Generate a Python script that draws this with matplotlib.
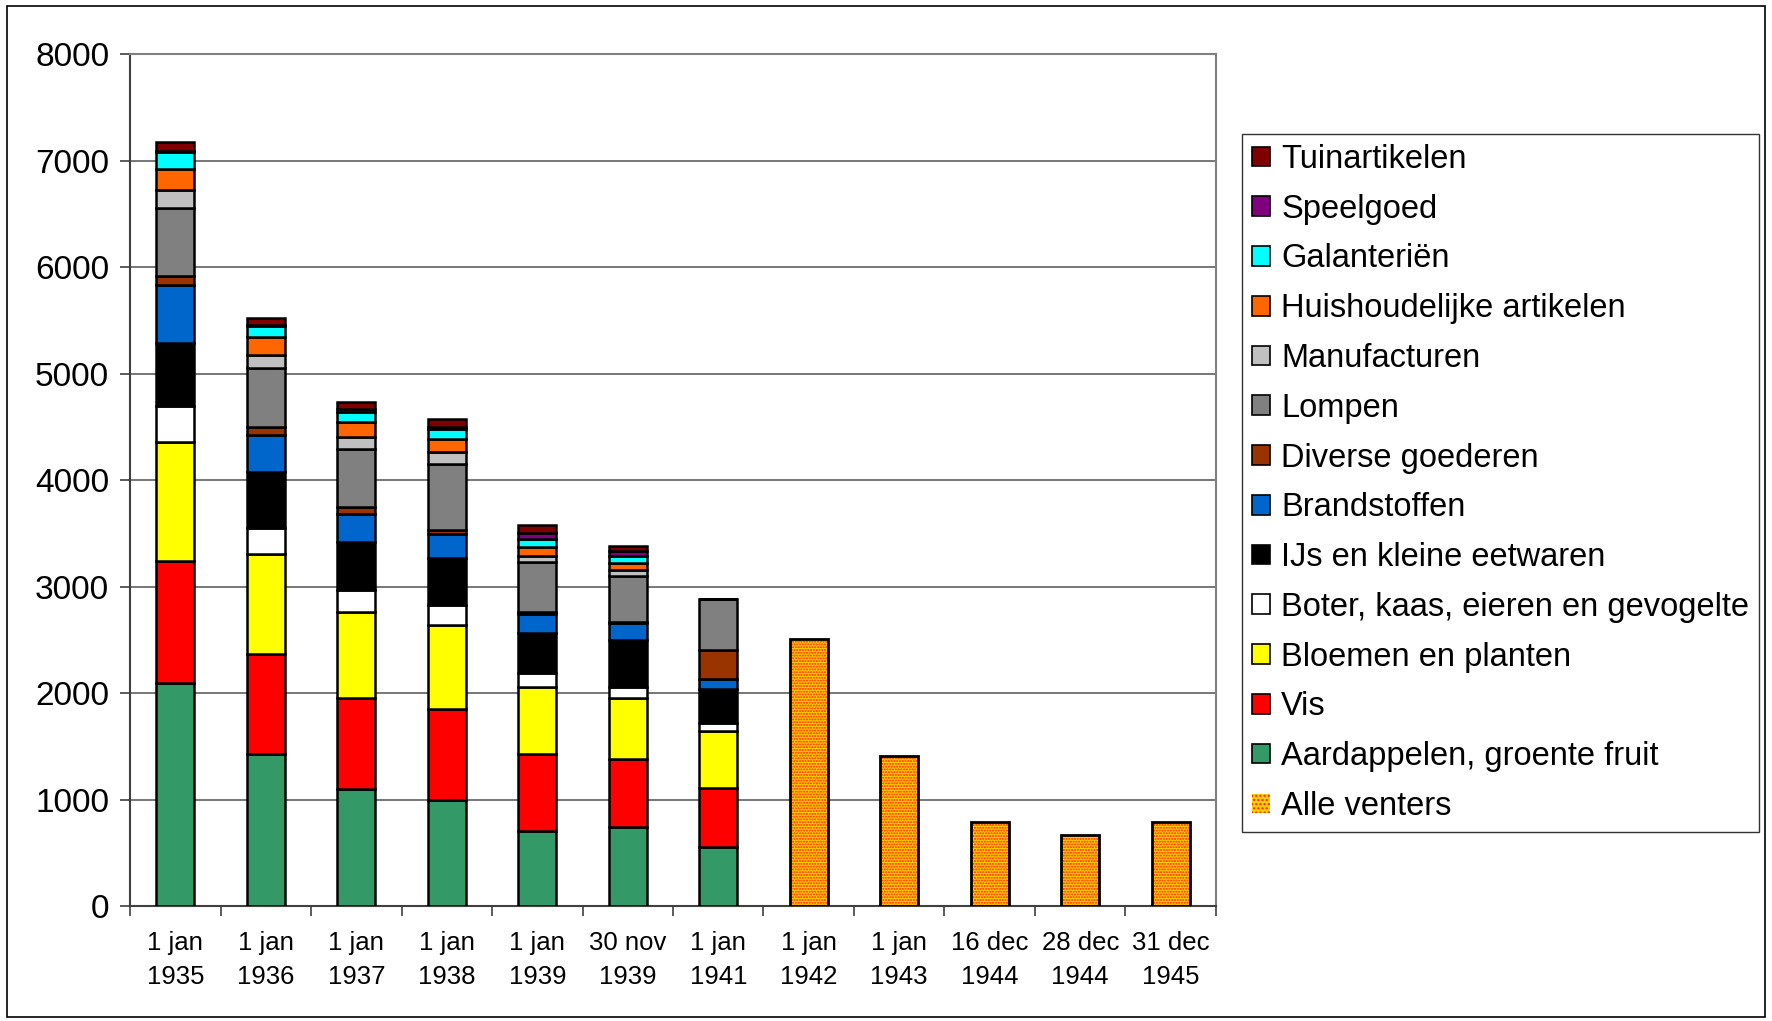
import numpy as np
import matplotlib
matplotlib.use('Agg')
import matplotlib.pyplot as plt
from matplotlib.patches import Rectangle, Patch

plt.rcParams['font.family'] = ['Liberation Sans', 'DejaVu Sans']

dates = ['1 jan\n1935', '1 jan\n1936', '1 jan\n1937', '1 jan\n1938', '1 jan\n1939',
         '30 nov\n1939', '1 jan\n1941', '1 jan\n1942', '1 jan\n1943', '16 dec\n1944',
         '28 dec\n1944', '31 dec\n1945']

# stacked groups, bottom to top (first 7 dates)
aardappelen = [2090, 1430, 1100, 1000, 700, 740, 550]
vis = [1145, 935, 855, 850, 725, 640, 555]
bloemen = [1125, 940, 810, 785, 635, 570, 535]
boter = [335, 245, 205, 195, 130, 105, 80]
ijs = [595, 530, 445, 440, 375, 445, 315]
brandstoffen = [540, 345, 265, 225, 180, 155, 95]
diverse = [90, 70, 65, 40, 20, 10, 275]
lompen = [635, 555, 545, 620, 465, 435, 475]
manufacturen = [170, 125, 110, 105, 60, 55, 0]
huishoudelijk = [195, 170, 145, 125, 85, 70, 0]
galanterien = [160, 100, 90, 95, 70, 65, 0]
speelgoed = [10, 10, 35, 20, 60, 45, 0]
tuinartikelen = [80, 65, 65, 70, 70, 45, 0]

# totals only for the later dates
alle_venters = [2510, 1405, 790, 665, 790]

series = [
    ('Aardappelen, groente fruit', aardappelen, '#339966'),
    ('Vis', vis, '#FF0000'),
    ('Bloemen en planten', bloemen, '#FFFF00'),
    ('Boter, kaas, eieren en gevogelte', boter, '#FFFFFF'),
    ('IJs en kleine eetwaren', ijs, '#000000'),
    ('Brandstoffen', brandstoffen, '#0066CC'),
    ('Diverse goederen', diverse, '#993300'),
    ('Lompen', lompen, '#808080'),
    ('Manufacturen', manufacturen, '#C0C0C0'),
    ('Huishoudelijke artikelen', huishoudelijk, '#FF6600'),
    ('Galanteriën', galanterien, '#00FFFF'),
    ('Speelgoed', speelgoed, '#800080'),
    ('Tuinartikelen', tuinartikelen, '#800000'),
]

fig = plt.figure(figsize=(17.72, 10.21), dpi=100)
ax = fig.add_axes([0.0734, 0.1126, 0.6128, 0.8345])

x = np.arange(len(dates))
w = 0.42
n_stack = len(aardappelen)
bottom = np.zeros(n_stack)
handles = []
for name, vals, col in series:
    vals = np.array(vals, dtype=float)
    ax.bar(x[:n_stack], vals, w, bottom=bottom, color=col, edgecolor='black',
           linewidth=1.8, zorder=3)
    bottom += vals
    handles.append(Patch(facecolor=col, edgecolor='black', linewidth=1.2, label=name))
handles = handles[::-1]

xv = x[n_stack:]
ax.bar(xv, alle_venters, w, color='#FFD000', edgecolor='#FF2000', hatch='......',
       linewidth=0, zorder=3)
ax.bar(xv, alle_venters, w, fill=False, edgecolor='black', linewidth=2.0, zorder=4)
handles.append(Patch(facecolor='#FFD000', edgecolor='#FF2000', hatch='....',
                     linewidth=0, label='Alle venters'))

ax.set_xlim(-0.5, len(dates) - 0.5)
ax.set_ylim(0, 8000)
ax.set_yticks(np.arange(0, 8001, 1000))
ax.yaxis.grid(True, color='#606060', linewidth=1.2, zorder=0)
ax.set_axisbelow(True)

ax.set_xticks(x)
ax.set_xticklabels(dates, fontsize=18.5, linespacing=1.5)
ax.set_xticks(np.arange(-0.5, len(dates), 1), minor=True)
ax.tick_params(axis='x', which='major', length=0, pad=18)
ax.tick_params(axis='x', which='minor', length=7, width=1.2, color='#404040')
ax.tick_params(axis='y', labelsize=24, length=7, width=1.2, color='#404040', pad=8)

for s in ['top', 'right']:
    ax.spines[s].set_color('#808080')
    ax.spines[s].set_linewidth(1.5)
for s in ['left', 'bottom']:
    ax.spines[s].set_color('#404040')
    ax.spines[s].set_linewidth(1.5)

leg = fig.legend(handles=handles, loc='upper left',
                 bbox_to_anchor=(0.701, 0.8686), bbox_transform=fig.transFigure,
                 fontsize=23.5, frameon=True, fancybox=False, edgecolor='black',
                 handlelength=0.55, handleheight=0.55, handletextpad=0.35,
                 labelspacing=0.575, borderaxespad=0, borderpad=0.3)
leg.get_frame().set_linewidth(1.0)

fig.patches.append(Rectangle((0.004, 0.004), 0.992, 0.99, transform=fig.transFigure,
                             fill=False, edgecolor='black', linewidth=1.2))

fig.savefig('out.png', dpi=100)
